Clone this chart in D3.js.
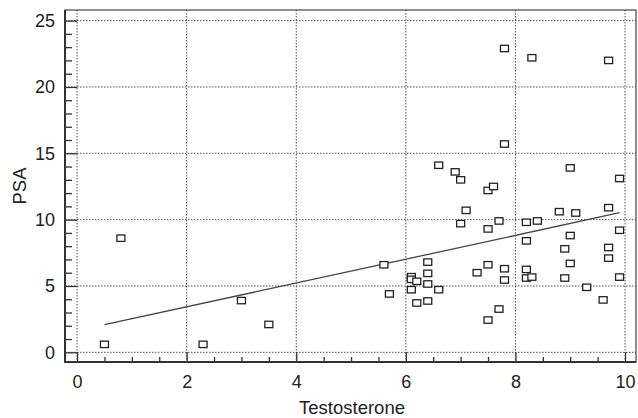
<!DOCTYPE html>
<html>
<head>
<meta charset="utf-8">
<script src="https://cdn.jsdelivr.net/npm/d3@7.9.0/dist/d3.min.js"></script>
<style>
  body { margin: 0; background: #fff; }
  svg { display: block; font-family: "Liberation Sans", Arial, sans-serif; }
  .tick text { font-size: 18px; fill: #222; }
</style>
</head>
<body>
<svg id="chart" width="638" height="418"></svg>
<script>
// testosterone (x) and PSA (y)
const testosterone = [0.5, 0.8, 2.3, 3.0, 3.5, 7.8, 8.3, 9.7, 7.8, 6.6, 6.9, 7.0, 7.5, 7.6, 9.0, 9.9,
  9.7, 7.1, 8.8, 9.1, 7.0, 7.7, 7.5, 8.2, 8.4, 8.2, 9.0, 9.9, 8.9, 9.7, 9.7, 9.0, 5.6, 6.4, 7.5,
  7.3, 7.8, 8.2, 6.4, 6.1, 6.1, 6.2, 6.4, 7.8, 8.2, 8.3, 8.9, 9.9, 6.1, 6.6, 5.7, 9.3, 6.2, 6.4,
  9.6, 7.7, 7.5];
const psa = [0.6, 8.6, 0.6, 3.9, 2.1, 22.9, 22.2, 22.0, 15.7, 14.1, 13.6, 13.0, 12.2, 12.5, 13.9, 13.1,
  10.9, 10.7, 10.6, 10.5, 9.7, 9.9, 9.3, 9.8, 9.9, 8.4, 8.8, 9.2, 7.8, 7.9, 7.1, 6.7, 6.6, 6.8, 6.6,
  6.0, 6.3, 6.25, 5.95, 5.7, 5.5, 5.35, 5.15, 5.45, 5.6, 5.67, 5.6, 5.67, 4.72, 4.72, 4.4, 4.9, 3.72, 3.87,
  3.95, 3.26, 2.43];

// fitted line end points
const fitX = [0.5, 9.9];
const fitY = [2.08, 10.52];

const xTicks = [0, 2, 4, 6, 8, 10];
const yTicks = [0, 5, 10, 15, 20, 25];

const plotLeft = 65, plotRight = 636, plotTop = 10, plotBottom = 362;

const svg = d3.select("#chart");

const x = d3.scaleLinear().domain([-0.22, 10.2]).range([plotLeft, plotRight]);
const y = d3.scaleLinear().domain([-0.73, 25.8]).range([plotBottom, plotTop]);

// dotted grid
svg.append("g")
  .selectAll("line")
  .data(xTicks)
  .join("line")
  .attr("x1", (d) => x(d)).attr("x2", (d) => x(d))
  .attr("y1", plotTop).attr("y2", plotBottom)
  .attr("stroke", "#555").attr("stroke-width", 1).attr("stroke-dasharray", "1.5,1.5");

svg.append("g")
  .selectAll("line")
  .data(yTicks)
  .join("line")
  .attr("x1", plotLeft).attr("x2", plotRight)
  .attr("y1", (d) => y(d)).attr("y2", (d) => y(d))
  .attr("stroke", "#555").attr("stroke-width", 1).attr("stroke-dasharray", "1.5,1.5");

// minor ticks
let xMinor = d3.range(0.5, 10, 0.5).filter((d) => !xTicks.includes(d));
let yMinor = d3.range(1, 26, 1).filter((d) => !yTicks.includes(d));

svg.append("g")
  .attr("transform", `translate(0,${plotBottom})`)
  .call(d3.axisBottom(x).tickValues(xMinor).tickSize(-5).tickFormat(""))
  .call((g) => g.select(".domain").remove())
  .call((g) => g.selectAll("line").attr("stroke", "#333").attr("stroke-width", 1.3));

svg.append("g")
  .attr("transform", `translate(${plotLeft},0)`)
  .call(d3.axisLeft(y).tickValues(yMinor).tickSize(-7).tickFormat(""))
  .call((g) => g.select(".domain").remove())
  .call((g) => g.selectAll("line").attr("stroke", "#333").attr("stroke-width", 1.3));

// major ticks with labels
svg.append("g")
  .attr("transform", `translate(0,${plotBottom})`)
  .call(d3.axisBottom(x).tickValues(xTicks).tickSize(-10).tickPadding(13))
  .call((g) => g.select(".domain").remove())
  .call((g) => g.selectAll("line").attr("stroke", "#333").attr("stroke-width", 1.3));

svg.append("g")
  .attr("transform", `translate(${plotLeft},0)`)
  .call(d3.axisLeft(y).tickValues(yTicks).tickSize(-12).tickPadding(10))
  .call((g) => g.select(".domain").remove())
  .call((g) => g.selectAll("line").attr("stroke", "#333").attr("stroke-width", 1.3));

// frame
svg.append("rect")
  .attr("x", plotLeft).attr("y", plotTop)
  .attr("width", plotRight - plotLeft).attr("height", plotBottom - plotTop)
  .attr("fill", "none").attr("stroke", "#444").attr("stroke-width", 1.2);
svg.append("path")
  .attr("d", `M${plotLeft},${plotTop}V${plotBottom}H${plotRight}`)
  .attr("fill", "none").attr("stroke", "#333").attr("stroke-width", 2);

// fitted line
svg.append("path")
  .datum(d3.zip(fitX, fitY))
  .attr("d", d3.line().x((d) => x(d[0])).y((d) => y(d[1])))
  .attr("fill", "none").attr("stroke", "#444").attr("stroke-width", 1.3);

// points
svg.append("g")
  .selectAll("rect")
  .data(d3.zip(testosterone, psa))
  .join("rect")
  .attr("x", (d) => x(d[0]) - 4)
  .attr("y", (d) => y(d[1]) - 3.2)
  .attr("width", 8).attr("height", 6.4)
  .attr("fill", "white").attr("stroke", "#222").attr("stroke-width", 1.3);

// axis titles
svg.append("text")
  .attr("x", 352).attr("y", 414)
  .attr("text-anchor", "middle")
  .attr("font-size", 18.5).attr("fill", "#222")
  .text("Testosterone");

svg.append("text")
  .attr("transform", "translate(26,186) rotate(-90)")
  .attr("text-anchor", "middle")
  .attr("font-size", 18.5).attr("fill", "#222")
  .text("PSA");
</script>
</body>
</html>
